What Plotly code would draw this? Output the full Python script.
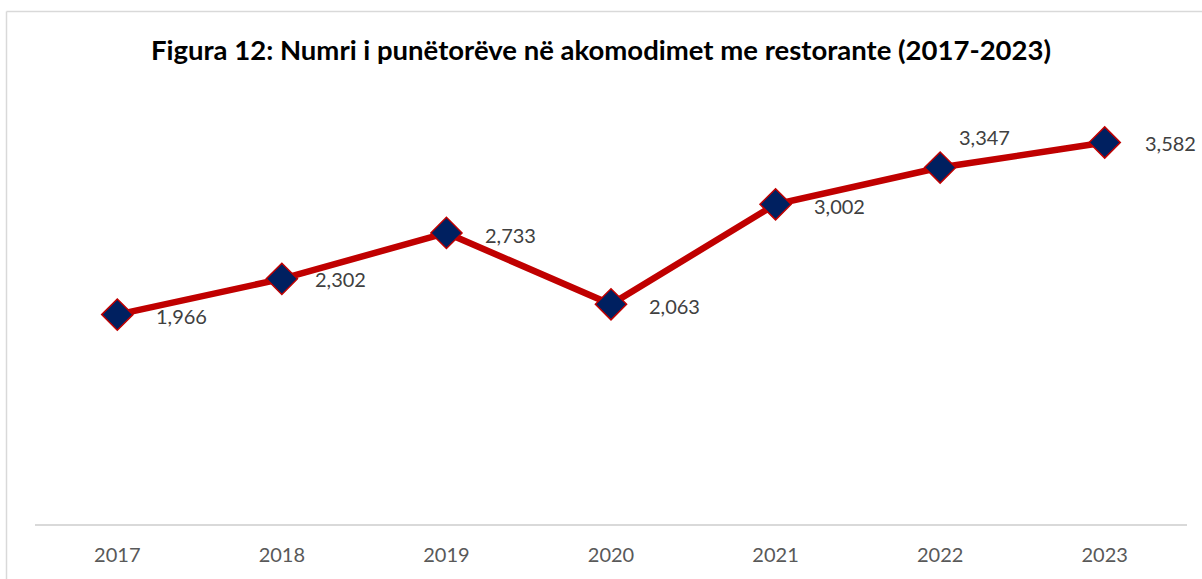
import plotly.graph_objects as go

years = ["2017", "2018", "2019", "2020", "2021", "2022", "2023"]
workers = [1966, 2302, 2733, 2063, 3002, 3347, 3582]
label_dx = [39, 33, 39, 38, 38, 19, 40]
label_dy = [-1, 0, -2, -2, -2, 31, 0]

title = "Figura 12: Numri i punëtorëve në akomodimet me restorante (2017-2023)"

fig = go.Figure()
fig.add_trace(go.Scatter(
    x=list(range(len(years))), y=workers, mode="lines+markers",
    line=dict(color="#C00000", width=6.5),
    marker=dict(symbol="diamond", size=24, color="#002060",
                line=dict(color="#C00000", width=1.5)),
    hoverinfo="skip", showlegend=False,
))

for i, (y, dx, dy) in enumerate(zip(workers, label_dx, label_dy)):
    fig.add_annotation(x=i, y=y, text=f"{y:,}", showarrow=False,
                       xanchor="left", yanchor="middle", xshift=dx - 2, yshift=dy,
                       font=dict(family="Lato, sans-serif", size=20, color="#404040"))

# chart-area frame (left and top edges visible, the rest falls outside the page)
fig.add_shape(type="line", xref="paper", yref="paper",
              x0=(6.5 - 35) / 1152, x1=(6.5 - 35) / 1152,
              y0=(524 - 620) / 426, y1=(524 - 11.5) / 426,
              line=dict(color="#D9D9D9", width=1.5), layer="below")
fig.add_shape(type="line", xref="paper", yref="paper",
              x0=(6.5 - 35) / 1152, x1=(1260 - 35) / 1152,
              y0=(524 - 11.5) / 426, y1=(524 - 11.5) / 426,
              line=dict(color="#D9D9D9", width=1.5), layer="below")

fig.update_layout(
    width=1202, height=579,
    margin=dict(l=35, r=15, t=98, b=55),
    paper_bgcolor="white", plot_bgcolor="white",
    title=dict(text=f"<b>{title}</b>", x=0.5, xanchor="center", y=1 - 50 / 579, yanchor="middle",
               font=dict(family="Lato, sans-serif", size=27.5, color="#000000")),
    xaxis=dict(range=[-0.5, len(years) - 0.5], tickmode="array",
               tickvals=list(range(len(years))), ticktext=years,
               showgrid=False, zeroline=False, showline=True, automargin=False,
               linecolor="#D9D9D9", linewidth=1.5, ticks="", ticklabelstandoff=12,
               tickfont=dict(family="Lato, sans-serif", size=20, color="#595959")),
    yaxis=dict(range=[0, 4000], visible=False, showgrid=False, automargin=False),
)

fig.write_html("out.html", config={"displayModeBar": False},
               post_script="document.body.style.margin='0';document.body.style.overflow='hidden';")
